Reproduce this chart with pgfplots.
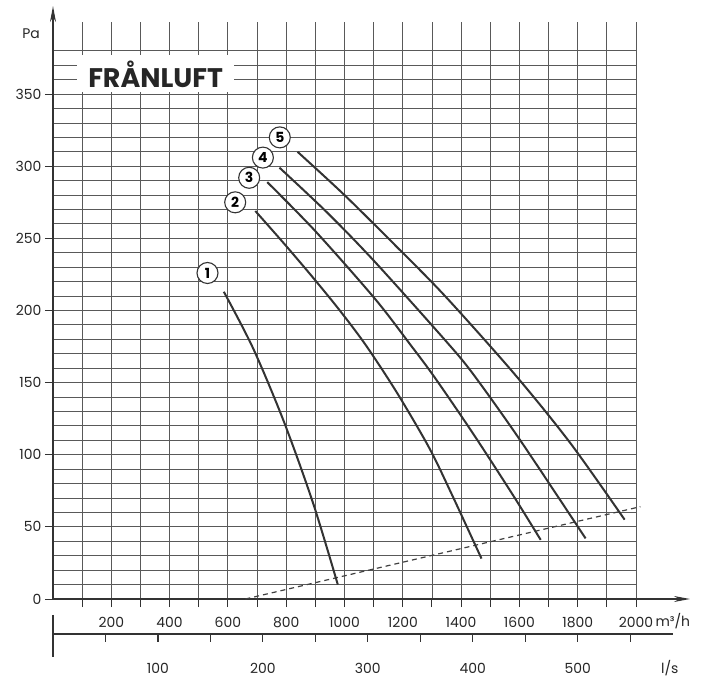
\documentclass[border=0pt]{standalone}
\usepackage{fontspec}
\setmainfont{Poppins}
\usepackage{pgfplots}
\usepackage{pgfplotstable}
\pgfplotsset{compat=1.18}
\usetikzlibrary{arrows.meta}

% fan curves, m3/h vs Pa
\pgfplotstableread{
x y
586 213
686 174
792 123
893 66
977 10
}\curveone
\pgfplotstableread{
x y
694 269
790 247
887 224
980 201
1073 176
1180 143
1290 105
1367 73
1470 28
}\curvetwo
\pgfplotstableread{
x y
735 289
900 255
1105 208
1227 176
1308 154
1440 115
1578 72
1673 41
}\curvethree
\pgfplotstableread{
x y
777 299
940 268
1103 234
1347 179
1441 156
1603 110
1827 42
}\curvefour
\pgfplotstableread{
x y
839 310
1000 280
1170 246
1345 210
1583 156
1775 108
1961 55
}\curvefive

\tikzset{
  gridline/.style={black!65, line width=0.9bp},
  axisline/.style={black!80, line width=1.2bp},
  curve/.style={black!80, line width=2bp, smooth},
  numlabel/.style={circle, draw=black!80, fill=white, line width=1.1bp,
    minimum size=21bp, inner sep=0pt, font=\bfseries\fontsize{14}{14}\selectfont},
  lab/.style={font=\fontsize{14}{14}\selectfont, text=black!85},
}

\begin{document}
\begin{tikzpicture}
\begin{axis}[
  scale only axis, width=583bp, height=577bp,
  xmin=0, xmax=2000, ymin=0, ymax=400,
  clip=false,
  axis x line*=bottom, axis y line*=left,
  axis line style={draw=none},
  tick align=outside,
  major tick length=8bp, minor tick length=8bp,
  tick style={black!80, line width=1bp},
  ytick={0,50,...,350},
  xtick={200,400,...,2000},
  minor xtick={100,300,...,1900},
  /pgf/number format/1000 sep={},
  /pgf/number format/assume math mode=true,
  ticklabel style={font=\fontsize{14}{14}\selectfont, text=black!85},
  xticklabel style={yshift=-7bp},
]
% grid
\pgfplotsinvokeforeach{10,20,...,380}{
  \draw[gridline] (axis cs:0,#1) -- (axis cs:2000,#1);
}
\pgfplotsinvokeforeach{100,200,...,2000}{
  \draw[gridline] (axis cs:#1,0) -- (axis cs:#1,400);
}
% axes
\draw[axisline, -{Stealth[length=16bp,width=6bp]}] (axis cs:0,0) -- (axis cs:2185,0);
\draw[axisline, -{Stealth[length=16bp,width=6bp]}] (axis cs:0,0) -- (axis cs:0,411);

\node[fill=white, inner sep=0pt, minimum width=157bp, minimum height=37bp,
  font=\bfseries\fontsize{27}{27}\selectfont, text=black!85] at (axis cs:352,364) {FRÅNLUFT};

\addplot[black!75, line width=1.2bp, dash pattern=on 5bp off 4bp] coordinates {(660,0) (2015,64)};

\addplot[curve] table {\curveone};
\addplot[curve] table {\curvetwo};
\addplot[curve] table {\curvethree};
\addplot[curve] table {\curvefour};
\addplot[curve] table {\curvefive};

\node[numlabel] at (axis cs:530,226) {1};
\node[numlabel] at (axis cs:625,275) {2};
\node[numlabel] at (axis cs:673,292) {3};
\node[numlabel] at (axis cs:720,306) {4};
\node[numlabel] at (axis cs:778,320) {5};

\node[lab] at (axis cs:-75,392) {Pa};
\node[lab, anchor=west] at (axis cs:2055,-15.5) {m³/h};

% second scale, l/s
\draw[axisline] (axis cs:0,-24.3) -- (axis cs:2126,-24.3);
\draw[axisline] (axis cs:0,-11) -- (axis cs:0,-40);
\pgfplotsinvokeforeach{180,360,...,1980}{
  \draw[axisline] (axis cs:#1,-24.3) -- (axis cs:#1,-30);
}
\node[lab] at (axis cs:360,-48) {100};
\node[lab] at (axis cs:720,-48) {200};
\node[lab] at (axis cs:1080,-48) {300};
\node[lab] at (axis cs:1440,-48) {400};
\node[lab] at (axis cs:1800,-48) {500};
\node[lab] at (axis cs:2116,-48) {l/s};
\end{axis}
\pgfresetboundingbox
\path (-53bp,-88bp) rectangle (658bp,599bp);
\end{tikzpicture}
\end{document}
